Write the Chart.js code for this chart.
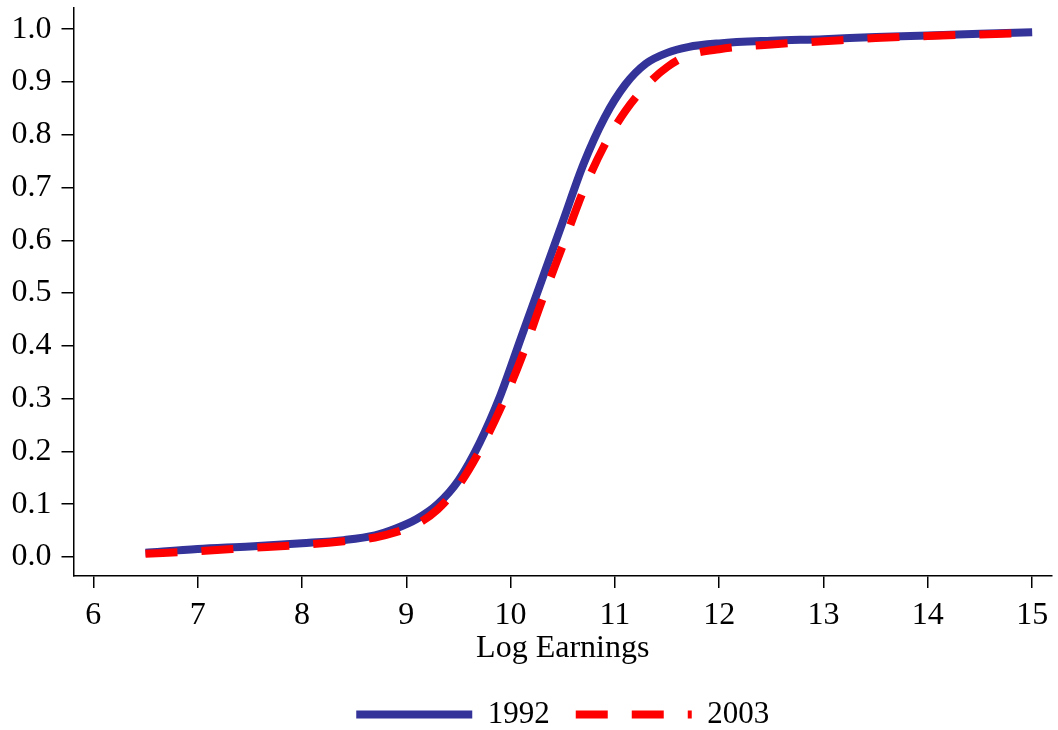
<!DOCTYPE html>
<html>
<head>
<meta charset="utf-8">
<script src="https://cdn.jsdelivr.net/npm/chart.js@4.4.1/dist/chart.umd.min.js"></script>
<style>
 html,body{margin:0;padding:0;background:#fff;}
 #wrap{width:1058px;height:730px;}
</style>
</head>
<body>
<div id="wrap"><canvas id="c"></canvas></div>
<script>
// log earnings grid for each year
const x1992=[6.5,7.0,7.5,8.0,8.4,8.7,8.9,9.1,9.3,9.5,9.7,9.9,10.1,10.3,10.5,10.7,10.9,11.1,11.3,11.5,11.7,12.0,12.5,13.0,13.5,14.0,14.5,15.0];
const cdf1992=[0.008,0.015,0.02,0.026,0.032,0.041,0.054,0.072,0.1,0.145,0.215,0.305,0.415,0.525,0.635,0.745,0.832,0.895,0.935,0.955,0.966,0.973,0.978,0.981,0.985,0.988,0.991,0.994];
const x2003=[6.5,7.0,7.5,8.0,8.4,8.7,8.9,9.1,9.3,9.5,9.7,9.9,10.1,10.3,10.5,10.7,10.9,11.1,11.3,11.5,11.7,12.0,12.5,13.0,13.5,14.0,14.5,15.0];
const cdf2003=[0.006,0.011,0.017,0.023,0.03,0.037,0.047,0.062,0.09,0.135,0.2,0.28,0.375,0.485,0.59,0.695,0.78,0.845,0.893,0.928,0.95,0.962,0.971,0.977,0.983,0.987,0.99,0.993];
const xTicks=[6,7,8,9,10,11,12,13,14,15];
const yTicks=[0,0.1,0.2,0.3,0.4,0.5,0.6,0.7,0.8,0.9,1.0];
const labels=["1992","2003"];

const serif="'Liberation Serif','Times New Roman',serif";
const pts=(xs,ys)=>xs.map((x,i)=>({x:x,y:ys[i]}));

// red dashes sit on top of the blue line, so give it the lower order
const ds=[
 {label:labels[0],data:pts(x1992,cdf1992),borderColor:"#333399",borderWidth:8,borderDash:[],order:1},
 {label:labels[1],data:pts(x2003,cdf2003),borderColor:"#ff0000",borderWidth:8,borderDash:[32,24],order:0}
];
ds.forEach(d=>{
 d.pointRadius=0;d.fill=false;d.cubicInterpolationMode="monotone";d.borderCapStyle="butt";
});

new Chart(document.getElementById("c"),{
 type:"line",
 data:{datasets:ds},
 options:{
  responsive:true,maintainAspectRatio:false,animation:false,
  layout:{padding:{left:0,top:8,right:6,bottom:-10}},
  plugins:{
   tooltip:{enabled:false},
   legend:{
    position:"bottom",fullSize:false,
    labels:{
     usePointStyle:true,pointStyleWidth:116,boxHeight:8,padding:26,color:"#000",
     font:{family:serif,size:31},
     generateLabels:(chart)=>chart.data.datasets.map((d,i)=>({
      text:d.label,fillStyle:d.borderColor,strokeStyle:d.borderColor,
      lineWidth:d.borderWidth,lineDash:d.borderDash,lineCap:"butt",
      pointStyle:"line",hidden:false,datasetIndex:i,fontColor:"#000"
     }))
    }
   }
  },
  scales:{
   x:{
    type:"linear",min:5.81,max:15.19,
    afterBuildTicks:(s)=>{s.ticks=xTicks.map(v=>({value:v}));},
    afterFit:(s)=>{s.height=97;s.paddingLeft=0;s.paddingRight=0;},
    grid:{drawOnChartArea:false,drawTicks:true,tickLength:12,color:"#000",lineWidth:1.5},
    border:{display:true,color:"#000",width:1.5},
    ticks:{color:"#000",padding:8,font:{family:serif,size:32},callback:(v)=>v},
    title:{display:true,text:"Log Earnings",color:"#000",font:{family:serif,size:32},padding:{top:0,bottom:5}}
   },
   y:{
    type:"linear",min:-0.036,max:1.04,
    afterBuildTicks:(s)=>{s.ticks=yTicks.map(v=>({value:v}));},
    afterFit:(s)=>{s.width=73.5;s.paddingTop=0;s.paddingBottom=0;},
    grid:{drawOnChartArea:false,drawTicks:true,tickLength:12,color:"#000",lineWidth:1.5},
    border:{display:true,color:"#000",width:1.5},
    ticks:{color:"#000",padding:10,font:{family:serif,size:32},callback:(v)=>v.toFixed(1)}
   }
  }
 }
});
</script>
</body>
</html>
